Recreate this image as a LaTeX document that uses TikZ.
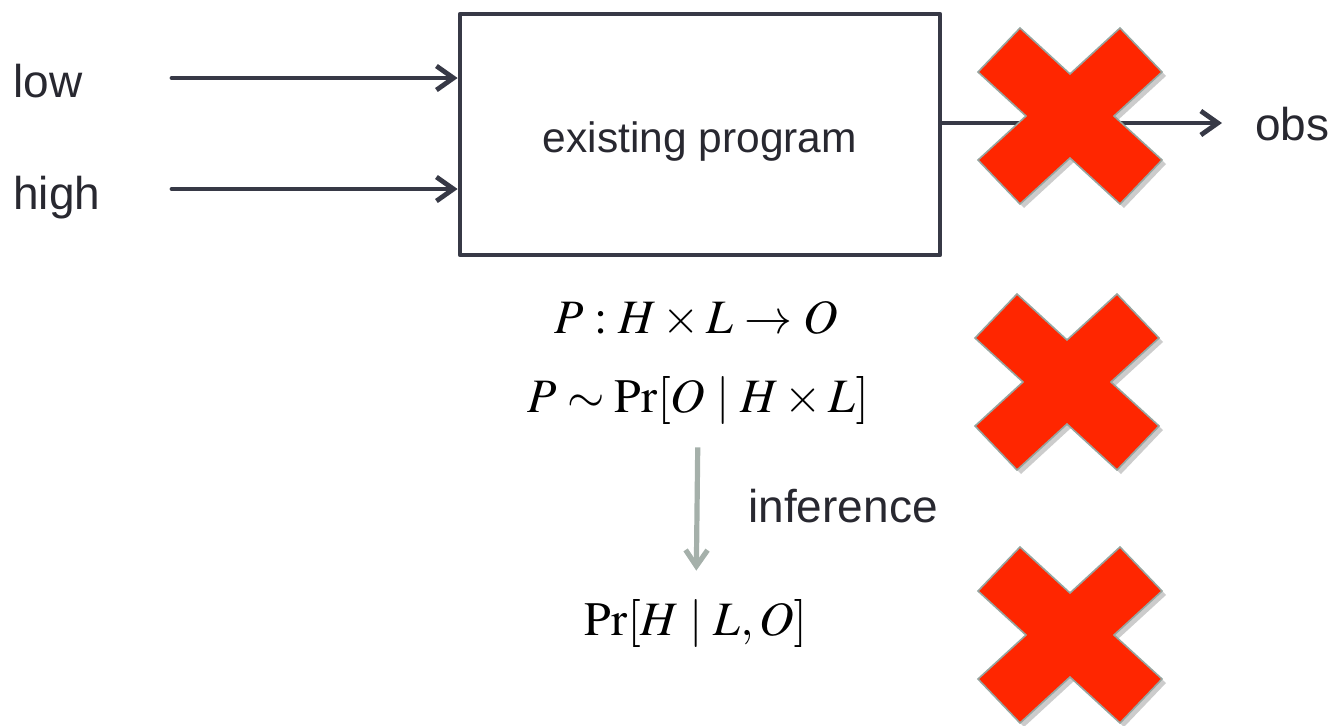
\documentclass[tikz,border=0pt]{standalone}
\usepackage{mathptmx}
\usepackage[no-math]{fontspec}
\setmainfont{Liberation Sans}
\usetikzlibrary{arrows.meta,shadows}
\definecolor{wire}{RGB}{55,57,70}
\definecolor{inkdark}{RGB}{40,40,48}
\definecolor{inferarrow}{RGB}{165,176,170}
\definecolor{crossred}{RGB}{255,38,0}
\definecolor{crossedge}{RGB}{150,165,160}
\tikzset{flow/.style={-{Straight Barb[length=8.5pt,width=12pt]},line width=2.4pt,wire,line cap=round},
 infer/.style={-{Straight Barb[length=8pt,width=11pt]},line width=2.6pt,inferarrow},
 textlabel/.style={font=\fontsize{23}{28}\selectfont,text=inkdark,inner sep=0pt,anchor=base west},
 formula/.style={font=\fontsize{24}{28}\selectfont,inner sep=0pt,anchor=base},
 pics/xmark/.style={code={
  \filldraw[fill=crossred,draw=crossedge,line width=0.8pt,
   drop shadow={shadow xshift=2pt,shadow yshift=-2pt,opacity=0.4}]
   (-50,-88) -- (0,-42) -- (50,-88) -- (92,-44) -- (44,0) -- (92,44) -- (50,88)
   -- (0,42) -- (-50,88) -- (-92,44) -- (-44,0) -- (-92,-44) -- cycle;}}}

\begin{document}
\begin{tikzpicture}[x=0.5pt,y=-0.5pt]
\useasboundingbox (0,0) rectangle (1334,725);
% the program box and its wires
\node[draw=wire,line width=2.4pt,line join=round,minimum width=240pt,minimum height=120.5pt,
 font=\fontsize{21.25}{26}\selectfont,text=inkdark,text height=22.5pt,text depth=5pt]
 (prog) at (700,134.5) {existing program};
\node[textlabel] (low) at (13,97) {low};
\node[textlabel] (high) at (13,209) {high};
\node[textlabel] (obs) at (1255,140) {obs};
\coordinate (lowtail) at (172,78);
\coordinate (hightail) at (172,189);
\coordinate (obshead) at (1222,123);
\draw[flow] (lowtail) -- (lowtail -| prog.west);
\draw[flow] (hightail) -- (hightail -| prog.west);
\draw[flow] (obshead -| prog.east) -- (obshead);
% formulas
\node[formula] (signature) at (696,333) {$P:H\times L\rightarrow O$};
\node[formula] (likelihood) at (698,412) {$P\sim\Pr[O\,\,|\,\,H\times L]$};
\node[formula] (posterior) at (696,635) {$\Pr[H\,\,|\,\,L,O]$};
\draw[infer,shorten <=11.5pt,shorten >=14pt] (likelihood.south) -- (posterior.north);
\node[textlabel] (inflabel) at (748,522) {inference};
% crosses
\foreach \cx/\cy in {1070/116,1067/382,1070/635}
 \pic at (\cx,\cy) {xmark};
\end{tikzpicture}
\end{document}
